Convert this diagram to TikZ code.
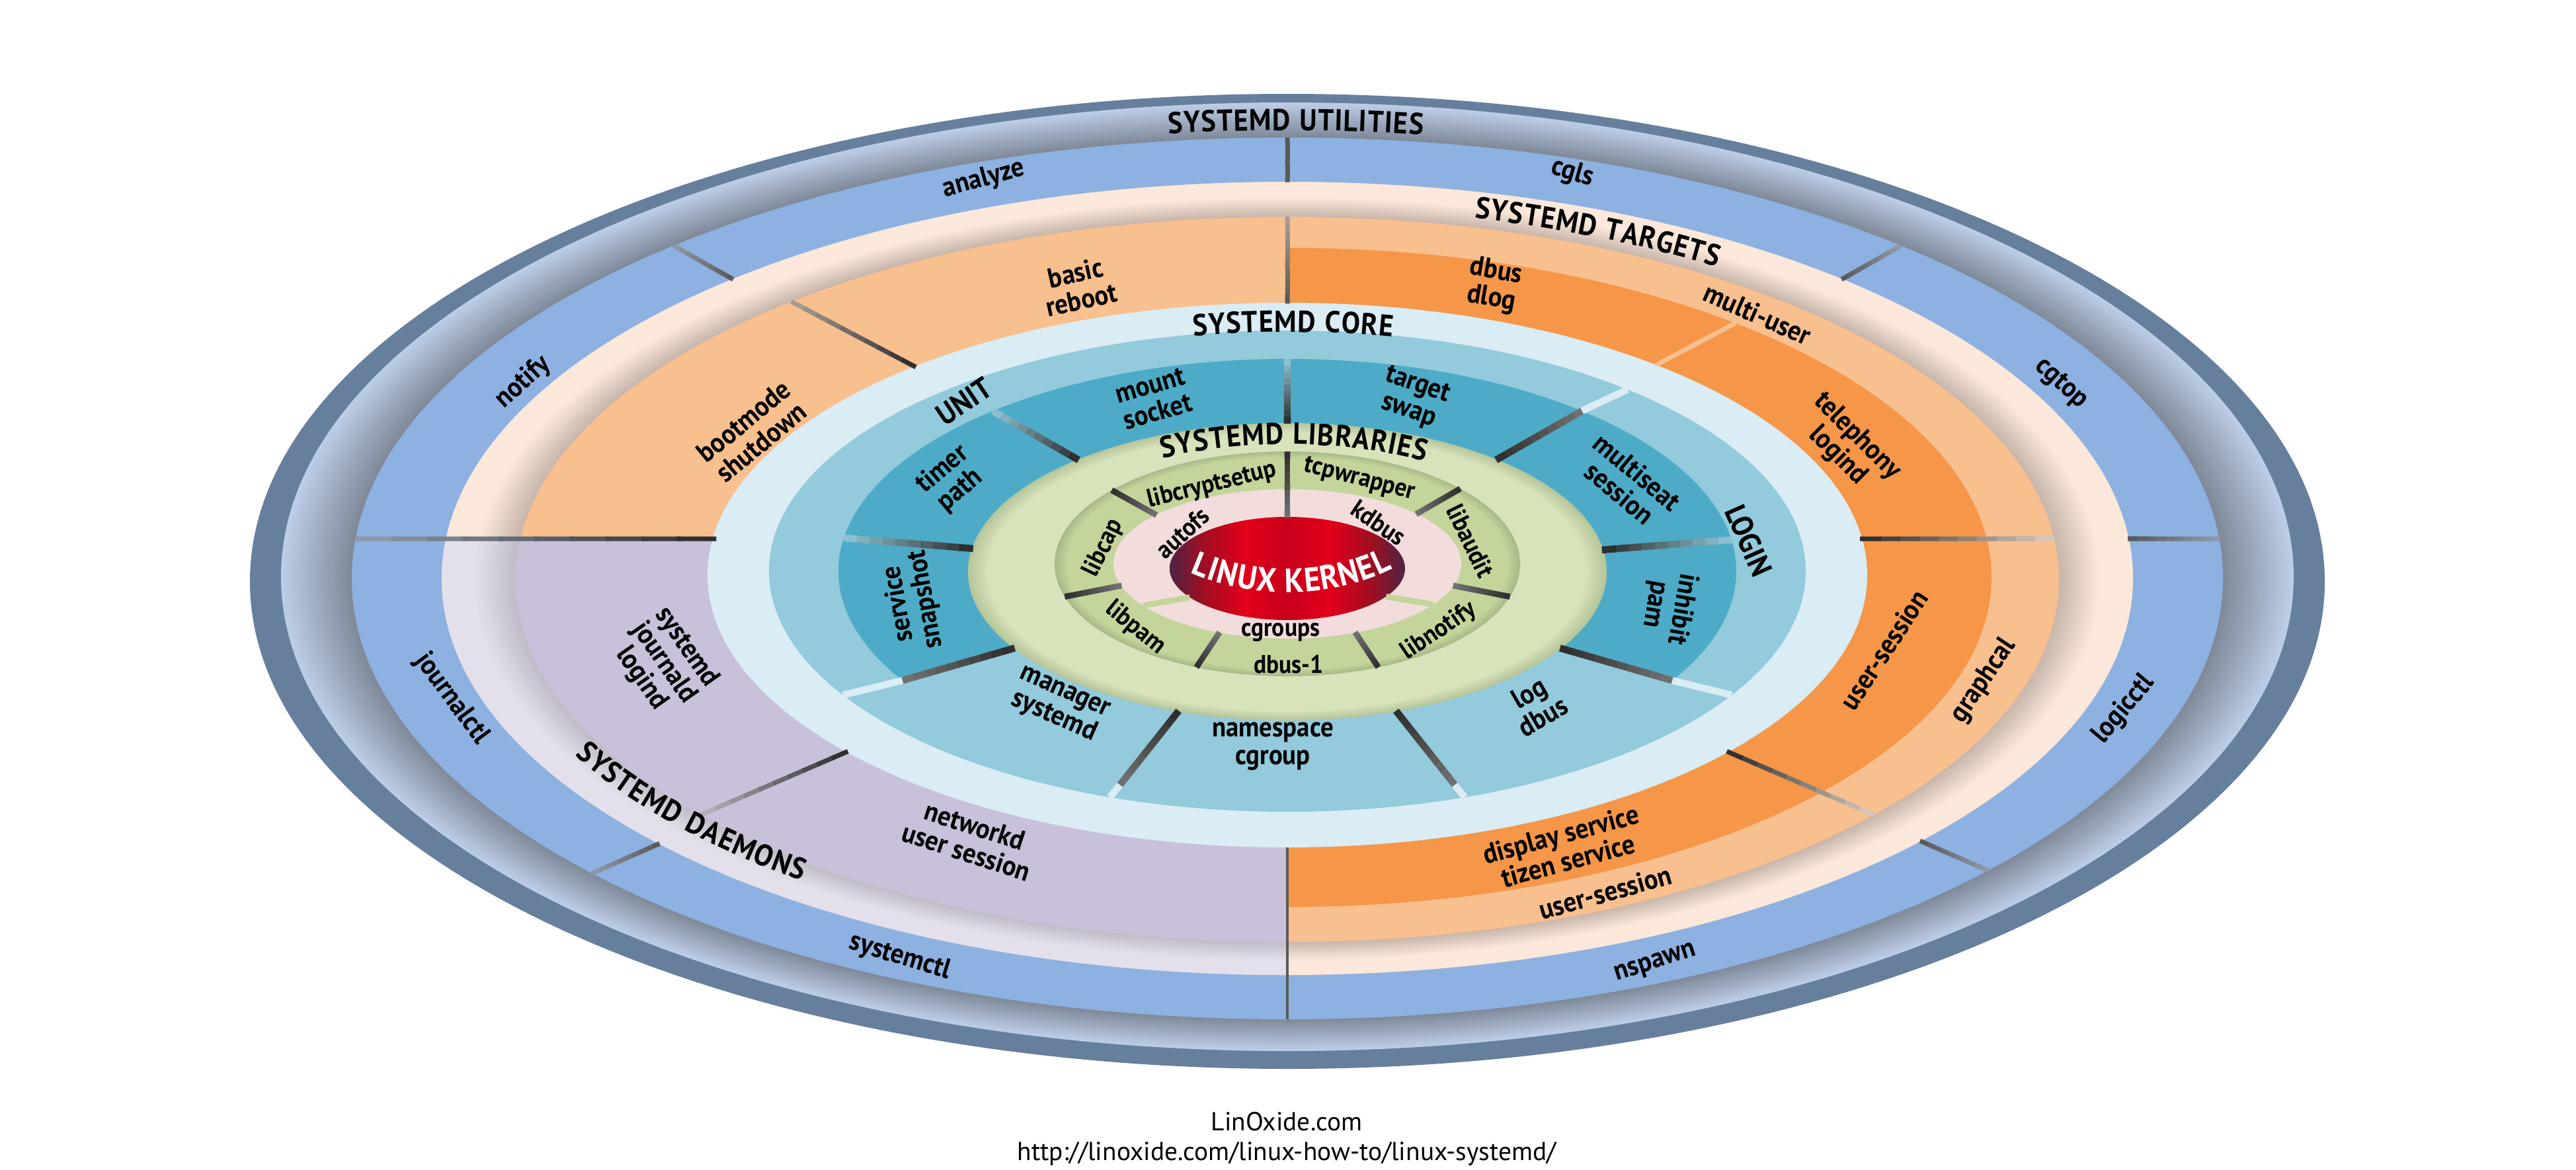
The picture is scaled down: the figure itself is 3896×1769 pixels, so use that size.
\documentclass[tikz,border=0pt]{standalone}
\usepackage{fontspec}
\setmainfont{PT Sans}
\newfontfamily\cnd{PT Sans}[FakeStretch=0.92]
\usetikzlibrary{calc}
\definecolor{cDark}{HTML}{667F9D}
\definecolor{cGreyOut}{HTML}{BCCDE6}
\definecolor{cGreyIn}{HTML}{7D8797}
\definecolor{cBlue}{HTML}{8DB1E0}
\definecolor{cPeach}{HTML}{FBE8DA}
\definecolor{cPeachSh}{HTML}{C6B3A9}
\definecolor{cLav}{HTML}{E3DFEB}
\definecolor{cLavSh}{HTML}{BFBAC6}
\definecolor{cLOr}{HTML}{F8BF8F}
\definecolor{cOr}{HTML}{F59649}
\definecolor{cPur}{HTML}{C9C0DA}
\definecolor{cCoreL}{HTML}{DAECF4}
\definecolor{cCoreM}{HTML}{93CADC}
\definecolor{cTeal}{HTML}{4DABC7}
\definecolor{cLibL}{HTML}{D7E3BB}
\definecolor{cLibSh}{HTML}{B7C59B}
\definecolor{cLibD}{HTML}{C3D59B}
\definecolor{cSegSh}{HTML}{A9BA88}
\definecolor{cPink}{HTML}{F3DCDC}
\definecolor{kerA}{HTML}{E3001B}
\definecolor{kerB}{HTML}{9E0E22}
\definecolor{kerC}{HTML}{4E2444}
\definecolor{kerD}{HTML}{C8001B}
\definecolor{lnD}{HTML}{2F2F2F}
\definecolor{lnM}{HTML}{5A5A5A}
\definecolor{lnS}{HTML}{707070}
\definecolor{lnG}{HTML}{8E98A9}
\definecolor{lnP}{HTML}{A69C94}
\definecolor{lnL}{HTML}{B3ADB8}
\definecolor{lnO}{HTML}{D4C6BB}
\definecolor{lnT}{HTML}{8CC0D0}
\pgfdeclarehorizontalshading{kernh}{100bp}{color(0bp)=(kerC); color(25bp)=(kerC); color(32bp)=(kerB); color(41bp)=(kerA); color(50bp)=(kerD); color(59bp)=(kerA); color(68bp)=(kerB); color(75bp)=(kerC); color(100bp)=(kerC)}
\newcommand\EP[4]{({1947+(#2)*cos(#4)},{(#1)-(#3)*sin(#4)})}
\newcommand\rgC[1]{\EP{875}{1415}{667}{#1}}
\newcommand\rgD[1]{\EP{875}{1279}{600}{#1}}
\newcommand\rgE[1]{\EP{876.5}{1167}{548.5}{#1}}
\newcommand\rgF[1]{\EP{873.5}{1065}{498.5}{#1}}
\newcommand\rgG[1]{\EP{870}{877}{412}{#1}}
\newcommand\rgH[1]{\EP{864}{784}{364}{#1}}
\newcommand\rgX[1]{\EP{864}{740}{344}{#1}}
\newcommand\rgI[1]{\EP{864}{679}{321}{#1}}
\newcommand\rgJ[1]{\EP{865}{483}{225}{#1}}
\newcommand\rgK[1]{\EP{853}{352}{170}{#1}}
\newcommand\rgL[1]{\EP{853}{263}{113}{#1}}
\newcommand\rgM[1]{\EP{860}{178}{78}{#1}}
\newcommand\farP[1]{\EP{864}{2500}{1180}{#1}}
\newcommand\dvln[5]{%
  \path #1 coordinate (dvA) #2 coordinate (dvB);
  \foreach \k in {0,...,9}{%
    \pgfmathsetmacro\dvS{\k/10}%
    \pgfmathsetmacro\dvE{(\k+1.1)/10}%
    \pgfmathtruncatemacro\dvP{100*\k/9}%
    \draw[line width=#5, #4!\dvP!#3] ($(dvA)!\dvS!(dvB)$) -- ($(dvA)!\dvE!(dvB)$);
  }}
\newcommand\myLb{\cnd\bfseries\fontsize{12}{11.8}\selectfont}
\newcommand\myLs{\cnd\bfseries\fontsize{11}{11}\selectfont}
\newcommand\myTtl{\cnd\bfseries\fontsize{13}{14}\selectfont}
\newcommand\myKer{\cnd\bfseries\fontsize{14.5}{15}\selectfont}
% text along an elliptical arc, one glyph at a time
\newdimen\atLen
\newcommand\atMeasure[2]{\pgfinterruptpicture\settowidth\atLen{#1#2}\global\atLen=\atLen\endpgfinterruptpicture}
\newcommand\arcT[8]{% #1 cy, #2 a, #3 b, #4 centre angle, #5 dir, #6 font, #7 colour, #8 glyphs
  \gdef\atW{0}%
  \foreach \ch in {#8}{%
    \atMeasure{#6}{\ch}%
    \edef\atWs{\the\atLen}%
    \pgfmathsetmacro\atTmp{\atW+\atWs+0.4}%
    \xdef\atW{\atTmp}}%
  \pgfmathsetmacro\atS{(#2)*sqrt(sin(#4)^2+((#3)/(#2))^2*cos(#4)^2)}%
  \pgfmathsetmacro\atTmp{(#4)+(#5)*(\atW/0.28453/2)/\atS*57.2958}%
  \xdef\atT{\atTmp}%
  \foreach \ch in {#8}{%
    \atMeasure{#6}{\ch}%
    \edef\atWs{\the\atLen}%
    \pgfmathsetmacro\atH{(\atWs+0.4)/0.28453/2}%
    \pgfmathsetmacro\atS{(#2)*sqrt(sin(\atT)^2+((#3)/(#2))^2*cos(\atT)^2)}%
    \pgfmathsetmacro\atM{\atT-(#5)*\atH/\atS*57.2958}%
    \pgfmathsetmacro\atR{atan2(-(#5)*(#3)*cos(\atM),(#5)*(#2)*sin(\atM))}%
    \node[anchor=base, inner sep=0pt, font=#6, text=#7, rotate=\atR] at ({1947+(#2)*cos(\atM)},{(#1)-(#3)*sin(\atM)}) {\ch};
    \pgfmathsetmacro\atS{(#2)*sqrt(sin(\atM)^2+((#3)/(#2))^2*cos(\atM)^2)}%
    \pgfmathsetmacro\atTmp{\atM-(#5)*\atH/\atS*57.2958}%
    \xdef\atT{\atTmp}}%
}
\tikzset{
  lb/.style={font=\myLb, align=center, inner sep=0pt, text=black},
  ls/.style={font=\myLs, align=center, inner sep=0pt, text=black},
  tl/.style={font=\myTtl, align=center, inner sep=0pt, text=black}
}
\begin{document}
\begin{tikzpicture}[x=0.01cm,y=-0.01cm]
\useasboundingbox (0,0) rectangle (3896,1769);
\fill[white] (0,0) rectangle (3896,1769);
% outer dark rim
\fill[cDark] (1947,879.5) ellipse [x radius=1569, y radius=737.5];
% grey gradient band
\foreach \i in {0,...,24}{
  \pgfmathsetmacro\gT{\i/24}
  \pgfmathsetmacro\gC{872.5+2.5*\gT}
  \pgfmathsetmacro\gA{1522-107*\gT}
  \pgfmathsetmacro\gB{717.5-50.5*\gT}
  \pgfmathtruncatemacro\gP{100*\gT}
  \fill[cGreyIn!\gP!cGreyOut] (1947,\gC) ellipse [x radius=\gA, y radius=\gB];
}
% utilities ring
\fill[cBlue] (1947,875) ellipse [x radius=1415, y radius=667];
% light band
\fill[cPeach] (1947,875) ellipse [x radius=1279, y radius=600];
\foreach \i in {0,...,14}{
  \pgfmathsetmacro\gT{0.42+0.58*\i/14}
  \pgfmathsetmacro\gC{875+1.5*\gT}
  \pgfmathsetmacro\gA{1279-112*\gT}
  \pgfmathsetmacro\gB{600-51.5*\gT}
  \pgfmathtruncatemacro\gP{100*\i/14}
  \fill[cPeachSh!\gP!cPeach] (1947,\gC) ellipse [x radius=\gA, y radius=\gB];
}
\begin{scope}
  \clip (0,815) rectangle (1947,1769);
  \fill[cLav] (1947,875) ellipse [x radius=1279, y radius=600];
  \foreach \i in {0,...,14}{
    \pgfmathsetmacro\gT{0.42+0.58*\i/14}
    \pgfmathsetmacro\gC{875+1.5*\gT}
    \pgfmathsetmacro\gA{1279-112*\gT}
    \pgfmathsetmacro\gB{600-51.5*\gT}
    \pgfmathtruncatemacro\gP{100*\i/14}
    \fill[cLavSh!\gP!cLav] (1947,\gC) ellipse [x radius=\gA, y radius=\gB];
  }
\end{scope}
% targets / daemons ring
\fill[cLOr] (1947,876.5) ellipse [x radius=1167, y radius=548.5];
\begin{scope}
  \clip (0,815) rectangle (1947,1769);
  \fill[cPur] (1947,876.5) ellipse [x radius=1167, y radius=548.5];
\end{scope}
\begin{scope}
  \clip (1947,0) rectangle (3896,1769);
  \fill[cOr] (1947,873.5) ellipse [x radius=1065, y radius=498.5];
\end{scope}
% core
\fill[cCoreL] (1947,870) ellipse [x radius=877, y radius=412];
\fill[cCoreM] (1947,864) ellipse [x radius=784, y radius=364];
\begin{scope}
  \clip (1947,864) -- \farP{-31} -- \farP{0} -- \farP{60} -- \farP{120} -- \farP{180} -- \farP{-149} -- cycle;
  \fill[cTeal] (1947,864) ellipse [x radius=679, y radius=321];
\end{scope}
% libraries
\fill[cLibSh] (1947,865) ellipse [x radius=483, y radius=225];
\foreach \i in {1,...,10}{
  \pgfmathsetmacro\gT{\i/10}
  \pgfmathsetmacro\gA{483-30*\gT}
  \pgfmathsetmacro\gB{225-14*\gT}
  \pgfmathtruncatemacro\gP{100*\gT}
  \fill[cLibL!\gP!cLibSh] (1947,865) ellipse [x radius=\gA, y radius=\gB];
}
\fill[cSegSh] (1947,853) ellipse [x radius=352, y radius=170];
\foreach \i in {1,...,8}{
  \pgfmathsetmacro\gT{\i/8}
  \pgfmathsetmacro\gA{352-18*\gT}
  \pgfmathsetmacro\gB{170-9*\gT}
  \pgfmathtruncatemacro\gP{100*\gT}
  \fill[cLibD!\gP!cSegSh] (1947,853) ellipse [x radius=\gA, y radius=\gB];
}
\fill[cPink] (1947,853) ellipse [x radius=263, y radius=113];
\shade[shading=kernh] (1947,860) ellipse [x radius=178, y radius=78];

% ---- dividers: utilities
\dvln{\rgC{90}}{\rgD{90}}{lnM}{lnM}{2pt}
\dvln{\rgC{131}}{\rgD{131}}{lnG}{lnM}{2pt}
\dvln{\rgC{-138}}{\rgD{-138}}{lnG}{lnM}{2pt}
\dvln{\rgC{-41.5}}{\rgD{-41.5}}{lnG}{lnM}{2pt}
\dvln{\rgC{49}}{\rgD{49}}{lnG}{lnM}{2pt}
\dvln{\rgC{5.16}}{\rgD{5.74}}{lnG}{lnM}{2pt}
\dvln{\rgC{174.84}}{\rgG{172.33}}{lnG}{lnD}{2pt}
\draw[line width=1.3pt, lnM] \rgC{-90} -- \rgG{-90};
% ---- dividers: targets / daemons
\dvln{\rgE{90}}{\rgG{90}}{lnP}{lnM}{2pt}
\dvln{\rgE{130}}{\rgG{130}}{lnP}{lnD}{2pt}
\dvln{\rgE{-139.5}}{\rgG{-139.5}}{lnL}{lnD}{2pt}
\dvln{\rgE{-40.5}}{\rgG{-40.5}}{lnO}{lnD}{2pt}
\dvln{\rgE{6.44}}{\rgG{7.67}}{lnO}{lnD}{2pt}
\draw[line width=2pt, cLOr] \rgF{50.5} -- \rgG{50.5};
% ---- dividers: core
\foreach \a in {90,131,171,8.5}{\dvln{\rgI{\a}}{\rgJ{\a}}{lnT}{lnD}{3pt}}
\foreach \a in {-149,-31,49}{
  \draw[line width=3pt, cCoreL] \rgH{\a} -- \rgI{\a};
  \dvln{\rgI{\a}}{\rgJ{\a}}{lnS}{lnD}{3pt}}
\foreach \a in {-110,-70}{
  \draw[line width=3pt, cCoreL] \rgH{\a} -- \rgX{\a};
  \dvln{\rgX{\a}}{\rgJ{\a}}{lnS}{lnD}{3pt}}
% ---- dividers: libraries
\dvln{\rgK{90}}{\rgM{90}}{lnD}{lnS}{2.5pt}
\foreach \a in {139,-163,-113,-67,-17,42}{\dvln{\rgK{\a}}{\rgL{\a}}{lnD}{lnS}{2.5pt}}
\draw[line width=2.5pt, cLibD] \rgL{-146} -- \rgM{-146};
\draw[line width=2.5pt, cLibD] \rgL{-33} -- \rgM{-33};

% ---- titles along arcs
\arcT{875}{1444}{678}{89.5}{1}{\myTtl}{black}{S,Y,S,T,E,M,D,~,U,T,I,L,I,T,I,E,S}
\arcT{875}{1195}{561}{66.7}{1}{\myTtl}{black}{S,Y,S,T,E,M,D,~,T,A,R,G,E,T,S}
\arcT{867}{778}{365}{89.4}{1}{\myTtl}{black}{S,Y,S,T,E,M,D,~,C,O,R,E}
\arcT{865}{414}{193}{89.4}{1}{\myTtl}{black}{S,Y,S,T,E,M,D,~,L,I,B,R,A,R,I,E,S}
\arcT{875}{1219}{573}{-139.7}{-1}{\myTtl}{black}{S,Y,S,T,E,M,D,~,D,A,E,M,O,N,S}
\arcT{741}{250}{155}{-90}{-1}{\myKer}{white}{L,I,N,U,X,~,K,E,R,N,E,L}

% ---- utilities labels
\node[lb, rotate=15.5] (tAnalyze) at (1488,271) {analyze};
\node[lb, rotate=-16] (tCgls) at (2378,262) {cgls};
\node[lb, rotate=42] (tNotify) at (791,578) {notify};
\node[lb, rotate=-42] (tCgtop) at (3117,581) {cgtop};
\node[lb, rotate=-53.5] (tJournalctl) at (683,1057) {journalctl};
\node[lb, rotate=50] (tLogicctl) at (3212,1073) {logicctl};
\node[lb, rotate=-17] (tSystemctl) at (1361,1448) {systemctl};
\node[lb, rotate=17.7] (tNspawn) at (2504,1458) {nspawn};
% ---- targets / daemons labels
\node[lb, rotate=12.5] (tBasic) at (1631,433) {basic\\reboot};
\node[lb, rotate=-10] (tDbus) at (2259,432) {dbus\\dlog};
\node[lb, rotate=39.5] (tBoot) at (1138,653) {bootmode\\shutdown};
\node[lb, rotate=-23.7] (tMulti) at (2658,475) {multi-user};
\node[lb, rotate=-45] (tTele) at (2794,675) {telephony\\logind};
\node[lb, rotate=-55] (tSysd) at (1004,1003) {systemd\\journald\\logind};
\node[lb, rotate=-18] (tNetw) at (1468,1269) {networkd\\user session};
\node[lb, rotate=56.7] (tUsA) at (2849,983) {user-session};
\node[lb, rotate=56] (tGraph) at (3000,1030) {graphcal};
\node[lb, rotate=15] (tDisp) at (2366,1282) {display service\\tizen service};
\node[lb, rotate=15.6] (tUsB) at (2428,1350) {user-session};
% ---- core labels
\node[tl, rotate=34] (tUnit) at (1458,607) {UNIT};
\node[lb, rotate=16] (tMount) at (1745,603) {mount\\socket};
\node[lb, rotate=-19] (tTarget) at (2137,603) {target\\swap};
\node[lb, rotate=40] (tTimer) at (1439,726) {timer\\path};
\node[lb, rotate=-40] (tMseat) at (2463,730) {multiseat\\session};
\node[tl, rotate=-66] (tLogin) at (2645,818) {LOGIN};
\node[lb, rotate=100] (tServ) at (1380,910) {service\\snapshot};
\node[lb, rotate=-100] (tInh) at (2523,918) {inhibit\\pam};
\node[lb, rotate=-24] (tMan) at (1601,1068) {manager\\systemd};
\node[lb] (tNs) at (1925,1129) {namespace\\cgroup};
\node[lb, rotate=30] (tLog) at (2323,1066) {log\\dbus};
% ---- library labels
\node[ls, rotate=14] (tLcs) at (1833,734) {libcryptsetup};
\node[ls, rotate=-14.5] (tTcp) at (2056,726) {tcpwrapper};
\node[ls, rotate=64] (tLcap) at (1669,829) {libcap};
\node[ls, rotate=42] (tAutofs) at (1788,806) {autofs};
\node[ls, rotate=-34] (tKdbus) at (2085,791) {kdbus};
\node[ls, rotate=-64] (tLaud) at (2224,818) {libaudit};
\node[ls, rotate=-39] (tLpam) at (1717,950) {libpam};
\node[ls] (tCgr) at (1937,957) {cgroups};
\node[ls] (tDbusA) at (1949,1005) {dbus-1};
\node[ls, rotate=34] (tLnot) at (2176,955) {libnotify};
% ---- footer
\node[font=\fontsize{11.2}{12}\selectfont, inner sep=0pt] (fSite) at (1946,1697) {LinOxide.com};
\node[font=\fontsize{11.2}{12}\selectfont, inner sep=0pt] (fUrl) at (1946,1745) {http://linoxide.com/linux-how-to/linux-systemd/};
\end{tikzpicture}
\end{document}
